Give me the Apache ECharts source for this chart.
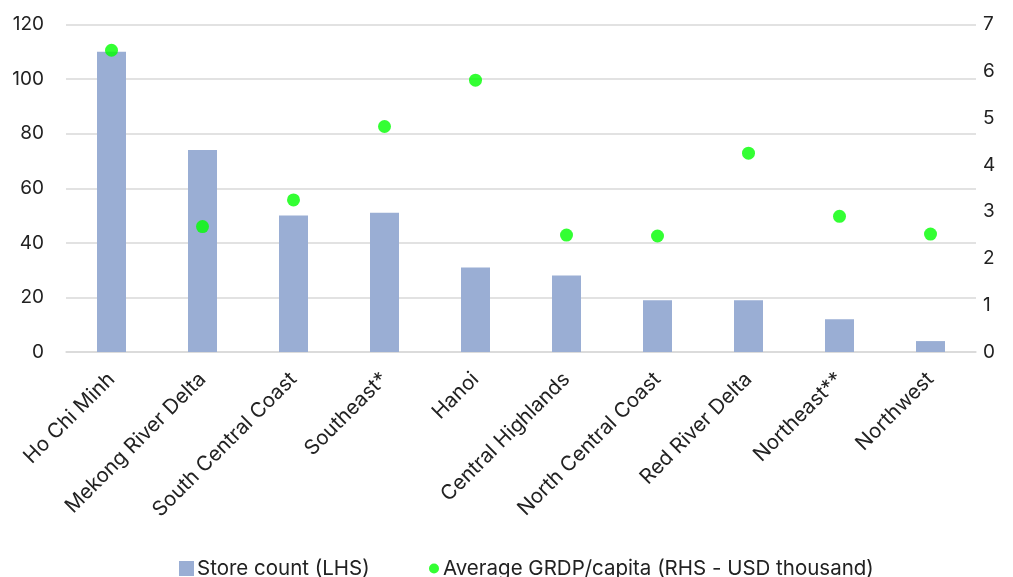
<!DOCTYPE html>
<html><head><meta charset="utf-8">
<script src="https://cdn.jsdelivr.net/npm/echarts@6/dist/echarts.min.js"></script>
<style>html,body{margin:0;padding:0;background:#fff}#c{width:1013px;height:577px}</style>
</head><body><div id="c"></div>
<script>
const categories = ["Ho Chi Minh","Mekong River Delta","South Central Coast","Southeast*","Hanoi","Central Highlands","North Central Coast","Red River Delta","Northeast**","Northwest"];
const storeCount = [110, 74, 50, 51, 31, 28, 19, 19, 12, 4];
const grdpPerCapita = [6.45, 2.68, 3.25, 4.82, 5.81, 2.50, 2.48, 4.25, 2.90, 2.52];
const leftTicks = {min: 0, max: 120, interval: 20};
const rightTicks = {min: 0, max: 7, interval: 1};

const font = "Inter, 'Noto Sans', sans-serif";
const barName = 'Store count (LHS)';
const dotName = 'Average GRDP/capita (RHS - USD thousand)';
const chart = echarts.init(document.getElementById('c'), null, {renderer: 'canvas'});
chart.setOption({
  animation: false,
  textStyle: {fontFamily: font},
  grid: {left: 66, right: 37, top: 24.5, bottom: 225, containLabel: false},
  legend: [
    {left: 174, top: 553, itemWidth: 15, itemHeight: 15, itemGap: 6,
     textStyle: {fontFamily: font, fontSize: 20.5, color: '#222', padding: [0, 0, 0, -2]},
     data: [{name: barName, icon: 'rect'}]},
    {left: 424, top: 553, itemWidth: 10, itemHeight: 10,
     textStyle: {fontFamily: font, fontSize: 20.5, color: '#222', padding: [0, 0, 0, -1]},
     data: [{name: dotName, icon: 'circle'}]}
  ],
  xAxis: {
    type: 'category', data: categories,
    axisLine: {show: true, lineStyle: {color: '#d9d9d9', width: 1.5}},
    axisTick: {show: false},
    axisLabel: {rotate: 45, margin: 24, fontSize: 20.5, color: '#222', fontFamily: font, interval: 0}
  },
  yAxis: [
    {type: 'value', min: leftTicks.min, max: leftTicks.max, interval: leftTicks.interval,
     axisLine: {show: false}, axisTick: {show: false},
     axisLabel: {margin: 22, fontSize: 19, color: '#222', fontFamily: font},
     splitLine: {lineStyle: {color: '#d9d9d9', width: 1.5}}},
    {type: 'value', min: rightTicks.min, max: rightTicks.max, interval: rightTicks.interval,
     position: 'right',
     axisLine: {show: false}, axisTick: {show: false},
     axisLabel: {margin: 7, fontSize: 19, color: '#222', fontFamily: font},
     splitLine: {show: false}}
  ],
  series: [
    {name: barName, type: 'bar', yAxisIndex: 0, data: storeCount,
     barWidth: 29, itemStyle: {color: '#9aaed4'}},
    {name: dotName, type: 'scatter', yAxisIndex: 1,
     data: grdpPerCapita, symbol: 'circle', symbolSize: 13,
     itemStyle: {color: '#00ff00'}}
  ]
});
</script></body></html>
